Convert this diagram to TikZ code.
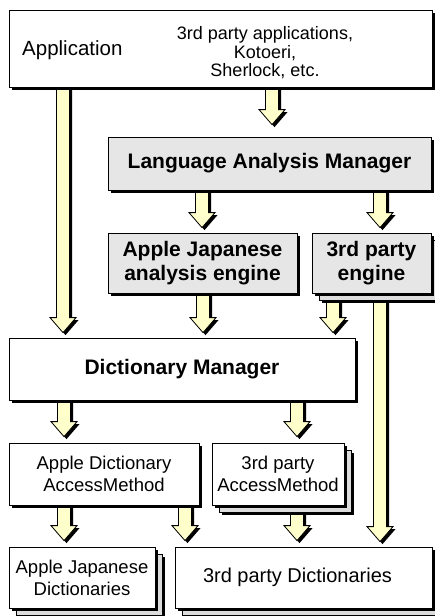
\documentclass[tikz,border=0pt]{standalone}
\usepackage{fontspec}
\setmainfont{Liberation Sans}
\usetikzlibrary{shadows,calc}
\pgfdeclarelayer{background}
\pgfsetlayers{background,main}
\definecolor{boxgray}{HTML}{E6E6E6}
\definecolor{stackgray}{HTML}{DCDCDC}
\definecolor{arrowyellow}{HTML}{FFFFCC}
\newcommand\fs[2]{\fontsize{#1}{#2}\selectfont}
% fat arrow polygon: \p1 start (top, centre of shaft), \p2 tip
\newcommand\fatarrowpath[2]{(\x1-6.5pt+#1,\y1-#2) -- (\x1+6.5pt+#1,\y1-#2) -- (\x1+6.5pt+#1,\y2+15pt-#2) -- (\x1+13pt+#1,\y2+15pt-#2) -- (\x1+#1,\y2-#2) -- (\x1-13pt+#1,\y2+15pt-#2) -- (\x1-6.5pt+#1,\y2+15pt-#2) -- cycle}
\newcommand\fatarrow[3]{%
  \path let \p1=#1, \p2=($#2+(0,-#3)$) in [fill=black] \fatarrowpath{2.5pt}{2.5pt};
  \path let \p1=#1, \p2=($#2+(0,-#3)$) in [fill=arrowyellow, draw=black, line width=0.8pt, line join=miter] \fatarrowpath{0pt}{0pt};
}
\tikzset{
  box/.style={draw=black, line width=0.8pt, fill=white, inner sep=0pt, align=center,
    general shadow={shadow xshift=3pt, shadow yshift=-3pt, fill=black}},
  graybox/.style={box, fill=boxgray},
  stackbox/.style={draw=black, line width=0.8pt, fill=white, inner sep=0pt, align=center,
    general shadow={shadow xshift=10pt, shadow yshift=-10pt, fill=black},
    general shadow={shadow xshift=7pt, shadow yshift=-7pt, fill=stackgray, draw=black, line width=0.6pt},
    general shadow={shadow xshift=3pt, shadow yshift=-3pt, fill=black}},
  txt/.style={inner sep=0pt, align=center},
  boldbig/.style={font=\bfseries\fs{21}{24}},
  regtxt/.style={font=\fs{18.5}{22}},
}
\begin{document}
\begin{tikzpicture}[x=1pt, y=-1pt]
\useasboundingbox (0,0) rectangle (435,616);

% boxes
\node[box, minimum width=423pt, minimum height=77pt] (app) at (220.5,48.5) {};
\node[txt, anchor=base west, font=\fs{20.5}{24}] (appl) at (22,55) {Application};
\node[txt, font=\fs{18}{18.5}] (apps) at (265,53) {3rd party applications,\\Kotoeri,\\Sherlock, etc.};

\node[graybox, boldbig, minimum width=323pt, minimum height=53pt] (lam) at (269.5,163.5) {Language Analysis Manager};
\node[graybox, boldbig, minimum width=189pt, minimum height=60pt] (aje) at (202.5,263) {Apple Japanese\\analysis engine};
\node[stackbox, fill=boxgray, boldbig, minimum width=119pt, minimum height=60pt] (eng) at (371.5,263) {3rd party\\engine};

\node[box, boldbig, minimum width=346pt, minimum height=62pt] (dm) at (182,369) {Dictionary Manager};

\node[box, regtxt, minimum width=190pt, minimum height=62pt] (adam) at (104,474) {Apple Dictionary\\AccessMethod};
\node[stackbox, regtxt, minimum width=132pt, minimum height=62pt] (tpam) at (278,474) {3rd party\\AccessMethod};

\node[stackbox, regtxt, minimum width=146pt, minimum height=61pt] (ajd) at (82,577.5) {Apple Japanese\\Dictionaries};
\node[stackbox, font=\fs{20}{24}, minimum width=257pt, minimum height=61pt] (tpd) at (303.5,577.5) {3rd party Dictionaries\hspace*{12pt}};

% arrows behind the boxes
\begin{pgfonlayer}{background}
\fill[white] (0,0) rectangle (435,616);
\fatarrow{(app.south -| 63,0)}{(dm.north -| 63,0)}{5}
\fatarrow{(app.south -| 272,0)}{(lam.north -| 272,0)}{12}
\fatarrow{(lam.south -| 202,0)}{(aje.north -| 202,0)}{5}
\fatarrow{(lam.south -| 380,0)}{(eng.north -| 380,0)}{5}
\fatarrow{(aje.south -| 203,0)}{(dm.north -| 203,0)}{5}
\fatarrow{(eng.south -| 333,0)}{(dm.north -| 333,0)}{5}
\fatarrow{(eng.south -| 380,0)}{(tpd.north -| 380,0)}{5}
\fatarrow{(dm.south -| 64,0)}{(adam.north -| 64,0)}{6}
\fatarrow{(dm.south -| 297,0)}{(tpam.north -| 297,0)}{6}
\fatarrow{(adam.south -| 64,0)}{(ajd.north -| 64,0)}{6}
\fatarrow{(adam.south -| 185,0)}{(tpd.north -| 185,0)}{6}
\fatarrow{(tpam.south -| 297,0)}{(tpd.north -| 297,0)}{6}
\end{pgfonlayer}
\end{tikzpicture}
\end{document}
